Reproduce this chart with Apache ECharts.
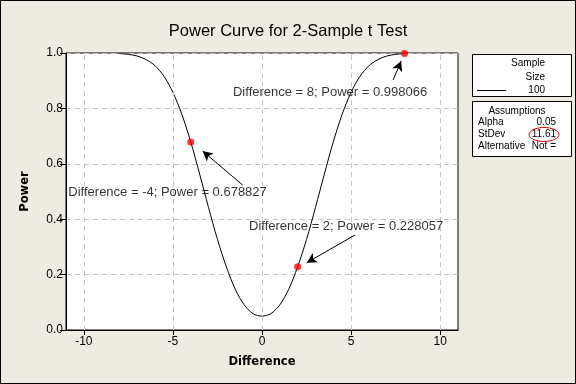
<!DOCTYPE html>
<html>
<head>
<meta charset="utf-8">
<script src="https://cdn.jsdelivr.net/npm/echarts@6/dist/echarts.min.js"></script>
<style>
html,body{margin:0;padding:0;background:#EEEBE2;}
#chart{width:576px;height:384px;}
</style>
</head>
<body>
<div id="chart"></div>
<script>
// ---- data ----
const differences = [-8,-7.5,-7,-6.5,-6,-5.5,-5,-4.5,-4,-3.5,-3,-2.5,-2,-1.5,-1,-0.5,0,0.5,1,1.5,2,2.5,3,3.5,4,4.5,5,5.5,6,6.5,7,7.5,8];
const powerValues = [0.998,0.995,0.989,0.976,0.954,0.916,0.858,0.779,0.679,0.563,0.442,0.327,0.228,0.147,0.091,0.059,0.050,0.059,0.091,0.147,0.228,0.327,0.442,0.563,0.679,0.779,0.858,0.916,0.954,0.976,0.989,0.995,0.998];
const pointDiffs = [-4, 2, 8];
const pointPowers = [0.678827, 0.228057, 0.998066];
const xTickValues = [-10, -5, 0, 5, 10];
const sampleSize = '100';
const alphaValue = '0.05';
const stdevValue = '11.61';
const alternativeValue = 'Not =';

// annotation anchors (data units)
const labelAnchors = [[-5.3, 0.496], [4.72, 0.373], [3.82, 0.857]];
const arrowTails = [[-1.08, 0.523], [5.22, 0.343], [7.36, 0.903]];
const arrowHeads = [[-3.33, 0.646], [2.51, 0.243], [7.81, 0.971]];

const FONT = 'Liberation Sans';
const curve = differences.map((d, i) => [d, powerValues[i]]);
const points = pointDiffs.map((d, i) => [d, pointPowers[i]]);
const labels = labelAnchors.map((a, i) => ({
  value: a,
  name: 'Difference = ' + pointDiffs[i] + '; Power = ' + pointPowers[i].toFixed(6)
}));

const LF = '10px "Liberation Sans"';
function txt(x, y, text, align) {
  return {type: 'text', x: x, y: y, style: {text: text, align: align, verticalAlign: 'middle', font: LF, fill: '#000'}};
}

const chart = echarts.init(document.getElementById('chart'), null, {renderer: 'canvas'});
chart.setOption({
  backgroundColor: '#EEEBE2',
  animation: false,
  title: {
    text: 'Power Curve for 2-Sample t Test',
    left: 'center', top: 18,
    textStyle: {fontFamily: FONT, fontSize: 16.5, fontWeight: 'normal', color: '#000'}
  },
  grid: {left: 66, right: 118, top: 53, bottom: 54, show: true, backgroundColor: '#fff', borderColor: '#000', borderWidth: 1},
  xAxis: {
    type: 'value', min: -11, max: 11,
    name: 'Difference', nameLocation: 'middle', nameGap: 26,
    nameTextStyle: {fontFamily: 'DejaVu Sans', fontSize: 11.5, fontWeight: 'bold', color: '#000'},
    axisLine: {show: true, onZero: false, lineStyle: {color: '#000'}},
    axisTick: {show: true, length: 5, customValues: xTickValues, lineStyle: {color: '#000'}},
    axisLabel: {customValues: xTickValues, fontFamily: FONT, fontSize: 12, color: '#000', margin: 6},
    splitLine: {show: false}
  },
  yAxis: {
    type: 'value', min: 0, max: 1, interval: 0.2,
    name: 'Power', nameLocation: 'middle', nameGap: 35,
    nameTextStyle: {fontFamily: 'DejaVu Sans', fontSize: 11.5, fontWeight: 'bold', color: '#000'},
    axisLine: {show: true, onZero: false, lineStyle: {color: '#000'}},
    axisTick: {show: true, length: 6, lineStyle: {color: '#000'}},
    axisLabel: {fontFamily: FONT, fontSize: 12, color: '#000', margin: 3, formatter: v => v.toFixed(1)},
    splitLine: {show: true, lineStyle: {color: '#c4c4c4', type: [5, 4]}}
  },
  series: [
    {
      type: 'line', data: [], silent: true,
      markLine: {
        silent: true, symbol: 'none', animation: false,
        label: {show: false},
        lineStyle: {color: '#c4c4c4', type: [5, 4], width: 1},
        data: xTickValues.map(v => ({xAxis: v}))
      }
    },
    {
      type: 'line', data: curve, showSymbol: false, smooth: 0.3,
      lineStyle: {color: '#000', width: 1}, z: 3
    },
    {
      type: 'line', data: [], silent: true,
      markLine: {
        silent: true, symbol: ['none', 'arrow'], symbolSize: [8, 10], animation: false,
        label: {show: false},
        lineStyle: {color: '#000', type: 'solid', width: 1},
        data: arrowTails.map((t, i) => [{coord: t}, {coord: arrowHeads[i]}])
      }, z: 4
    },
    {
      type: 'scatter', data: points, symbolSize: 7, clip: false,
      itemStyle: {color: '#ff0000'}, z: 5
    },
    {
      type: 'scatter', data: labels, symbolSize: 0, clip: false,
      label: {show: true, position: 'inside', formatter: p => p.name,
        fontFamily: FONT, fontSize: 13, color: '#000', textBorderWidth: 0}, z: 6
    }
  ],
  graphic: [
    {type: 'rect', shape: {x: 0.5, y: 0.5, width: 575, height: 383}, style: {fill: 'none', stroke: '#000', lineWidth: 1}, silent: true},
    {type: 'rect', shape: {x: 472.5, y: 54.5, width: 99, height: 42}, style: {fill: '#fff', stroke: '#000', lineWidth: 1}},
    txt(545, 63, 'Sample', 'right'),
    txt(545, 77, 'Size', 'right'),
    {type: 'line', shape: {x1: 477, y1: 90.5, x2: 506, y2: 90.5}, style: {stroke: '#000', lineWidth: 1}},
    txt(545, 90, sampleSize, 'right'),
    {type: 'rect', shape: {x: 472.5, y: 101.5, width: 99, height: 55}, style: {fill: '#fff', stroke: '#000', lineWidth: 1}},
    txt(517, 111, 'Assumptions', 'center'),
    txt(478, 122.5, 'Alpha', 'left'),
    txt(556, 122.5, alphaValue, 'right'),
    txt(478, 134.5, 'StDev', 'left'),
    txt(556, 134.5, stdevValue, 'right'),
    {type: 'ellipse', shape: {cx: 544, cy: 134.5, rx: 15, ry: 7}, style: {fill: 'none', stroke: '#e00000', lineWidth: 1}},
    txt(478, 146.5, 'Alternative', 'left'),
    txt(556, 146.5, alternativeValue, 'right')
  ]
});
</script>
</body>
</html>
